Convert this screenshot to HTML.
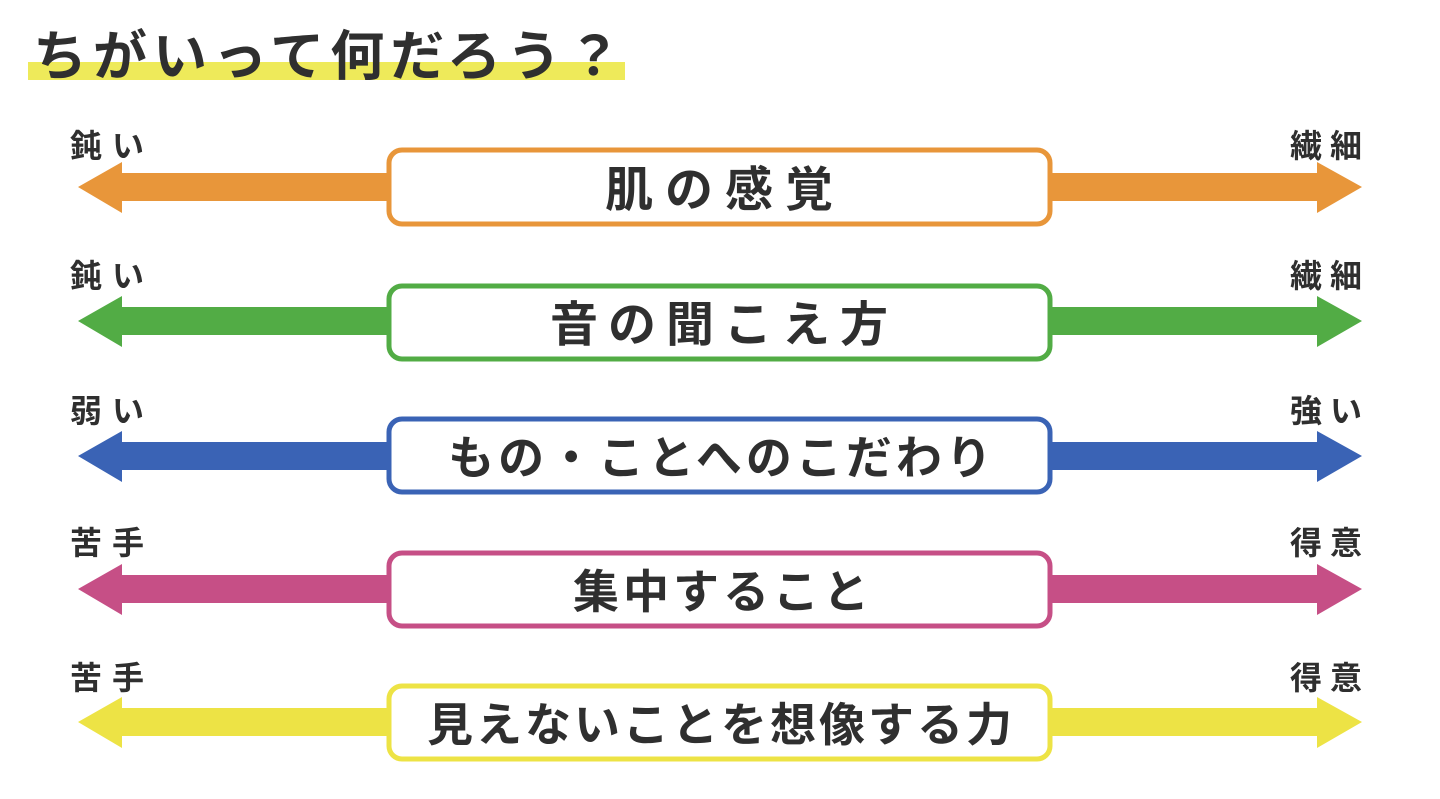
<!DOCTYPE html>
<html><head><meta charset="utf-8"><style>
body{margin:0;width:1440px;height:799px;background:#fff;overflow:hidden}
svg{display:block}
text{font-family:"Liberation Sans","Noto Sans CJK JP",sans-serif;font-weight:bold;fill:#2f2f2f}
</style></head><body>
<svg width="1440" height="799" viewBox="0 0 1440 799">
<rect x="28" y="62" width="597" height="18" fill="#eeea5a"/>
<text x="33" y="75" font-size="54" letter-spacing="6">ちがいって何だろう？</text>

<g>
<path d="M78 187 L122 162 L122 173 L400 173 L400 201 L122 201 L122 213 Z" fill="#e8963a"/>
<path d="M1362 187 L1317 162 L1317 173 L1040 173 L1040 201 L1317 201 L1317 213 Z" fill="#e8963a"/>
<rect x="389" y="150" width="661" height="74" rx="13" fill="#fff" stroke="#e8963a" stroke-width="5"/>
<text x="725" y="206" font-size="48" text-anchor="middle" letter-spacing="12">肌の感覚</text>
<text x="70" y="157" font-size="32" letter-spacing="10">鈍い</text>
<text x="1370" y="157" font-size="32" letter-spacing="8" text-anchor="end">繊細</text>
</g>
<g>
<path d="M78 321 L122 296 L122 307 L400 307 L400 335 L122 335 L122 347 Z" fill="#52ac45"/>
<path d="M1362 321 L1317 296 L1317 307 L1040 307 L1040 335 L1317 335 L1317 347 Z" fill="#52ac45"/>
<rect x="389" y="286" width="661" height="73" rx="13" fill="#fff" stroke="#52ac45" stroke-width="5"/>
<text x="724" y="341" font-size="48" text-anchor="middle" letter-spacing="10">音の聞こえ方</text>
<text x="70" y="287" font-size="32" letter-spacing="10">鈍い</text>
<text x="1370" y="287" font-size="32" letter-spacing="8" text-anchor="end">繊細</text>
</g>
<g>
<path d="M78 456 L122 431 L122 442 L400 442 L400 470 L122 470 L122 482 Z" fill="#3a63b5"/>
<path d="M1362 456 L1317 431 L1317 442 L1040 442 L1040 470 L1317 470 L1317 482 Z" fill="#3a63b5"/>
<rect x="389" y="419" width="661" height="73" rx="13" fill="#fff" stroke="#3a63b5" stroke-width="5"/>
<text x="722" y="474" font-size="46" text-anchor="middle" letter-spacing="4">もの・ことへのこだわり</text>
<text x="70" y="422" font-size="32" letter-spacing="10">弱い</text>
<text x="1370" y="422" font-size="32" letter-spacing="8" text-anchor="end">強い</text>
</g>
<g>
<path d="M78 589 L122 564 L122 575 L400 575 L400 603 L122 603 L122 615 Z" fill="#c64f86"/>
<path d="M1362 589 L1317 564 L1317 575 L1040 575 L1040 603 L1317 603 L1317 615 Z" fill="#c64f86"/>
<rect x="389" y="553" width="661" height="73" rx="13" fill="#fff" stroke="#c64f86" stroke-width="5"/>
<text x="723" y="608" font-size="46" text-anchor="middle" letter-spacing="4">集中すること</text>
<text x="70" y="554" font-size="32" letter-spacing="10">苦手</text>
<text x="1370" y="554" font-size="32" letter-spacing="8" text-anchor="end">得意</text>
</g>
<g>
<path d="M78 722 L122 697 L122 708 L400 708 L400 736 L122 736 L122 748 Z" fill="#ede345"/>
<path d="M1362 722 L1317 697 L1317 708 L1040 708 L1040 736 L1317 736 L1317 748 Z" fill="#ede345"/>
<rect x="389" y="686" width="661" height="73" rx="13" fill="#fff" stroke="#ede345" stroke-width="5"/>
<text x="721" y="741" font-size="46" text-anchor="middle" letter-spacing="3">見えないことを想像する力</text>
<text x="70" y="689" font-size="32" letter-spacing="10">苦手</text>
<text x="1370" y="689" font-size="32" letter-spacing="8" text-anchor="end">得意</text>
</g>
</svg>
</body></html>
